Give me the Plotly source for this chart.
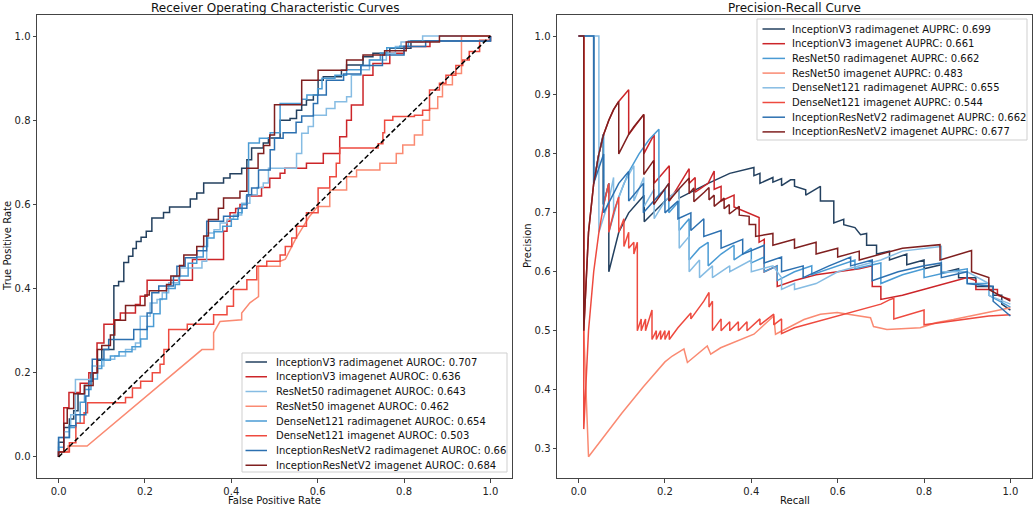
import plotly.graph_objects as go

# ---------------- DATA ----------------
roc_names = [
    "InceptionV3 radimagenet AUROC: 0.707",
    "InceptionV3 imagenet AUROC: 0.636",
    "ResNet50 radimagenet AUROC: 0.643",
    "ResNet50 imagenet AUROC: 0.462",
    "DenseNet121 radimagenet AUROC: 0.654",
    "DenseNet121 imagenet AUROC: 0.503",
    "InceptionResNetV2 radimagenet AUROC: 0.66",
    "InceptionResNetV2 imagenet AUROC: 0.684",
]
pr_names = [
    "InceptionV3 radimagenet AUPRC: 0.699",
    "InceptionV3 imagenet AUPRC: 0.661",
    "ResNet50 radimagenet AUPRC: 0.662",
    "ResNet50 imagenet AUPRC: 0.483",
    "DenseNet121 radimagenet AUPRC: 0.655",
    "DenseNet121 imagenet AUPRC: 0.544",
    "InceptionResNetV2 radimagenet AUPRC: 0.662",
    "InceptionResNetV2 imagenet AUPRC: 0.677",
]
roc_colors = ["#23405f", "#cc2529", "#86bce3", "#fa8a72", "#4a9bd4", "#ee4a3f", "#2c70b0", "#7f1f1f"]
pr_colors = ["#23405f", "#cc2529", "#4a9bd4", "#fa8a72", "#86bce3", "#ee4a3f", "#2c70b0", "#7f1f1f"]

# ROC step curves: (fpr at which the jump happens, tpr after the jump)
roc_incv3_rad = [(0, 0), (0, 0.035), (0.012, 0.07), (0.025, 0.09), (0.035, 0.11), (0.045, 0.15), (0.06, 0.17),
                 (0.075, 0.2), (0.09, 0.23), (0.1, 0.255), (0.128, 0.407), (0.139, 0.417), (0.151, 0.462),
                 (0.162, 0.477), (0.172, 0.495), (0.18, 0.512), (0.191, 0.522), (0.203, 0.536), (0.216, 0.568),
                 (0.243, 0.581), (0.257, 0.594), (0.305, 0.613), (0.32, 0.627), (0.336, 0.651), (0.382, 0.663),
                 (0.397, 0.673), (0.424, 0.686), (0.436, 0.706), (0.447, 0.734), (0.474, 0.746), (0.486, 0.758),
                 (0.513, 0.8), (0.536, 0.804), (0.551, 0.824), (0.563, 0.836), (0.574, 0.848), (0.59, 0.86),
                 (0.601, 0.895), (0.613, 0.903), (0.655, 0.919), (0.667, 0.931), (0.705, 0.951), (0.728, 0.959),
                 (0.767, 0.971), (0.816, 0.989), (1.0, 1.0)]
roc_incv3_img = [(0, 0), (0, 0.012), (0.012, 0.117), (0.024, 0.153), (0.05, 0.175), (0.07, 0.2), (0.089, 0.271),
                 (0.105, 0.315), (0.128, 0.326), (0.143, 0.342), (0.178, 0.362), (0.189, 0.382), (0.205, 0.42),
                 (0.31, 0.469), (0.382, 0.536), (0.39, 0.56), (0.397, 0.58), (0.41, 0.59), (0.42, 0.6),
                 (0.436, 0.62), (0.47, 0.64), (0.489, 0.662), (0.513, 0.674), (0.524, 0.686), (0.574, 0.698),
                 (0.613, 0.721), (0.651, 0.761), (0.667, 0.8), (0.678, 0.836), (0.705, 0.907), (0.728, 0.935),
                 (0.767, 0.959), (0.8, 0.975), (0.86, 0.988), (1.0, 1.0)]
roc_res50_rad = [(0, 0), (0, 0.046), (0.012, 0.06), (0.025, 0.07), (0.028, 0.1), (0.039, 0.184), (0.078, 0.216),
                 (0.105, 0.232), (0.13, 0.24), (0.155, 0.255), (0.178, 0.271), (0.189, 0.334), (0.212, 0.366),
                 (0.228, 0.374), (0.24, 0.39), (0.255, 0.414), (0.278, 0.429), (0.282, 0.449), (0.332, 0.465),
                 (0.343, 0.532), (0.36, 0.54), (0.374, 0.556), (0.39, 0.565), (0.405, 0.575), (0.424, 0.603),
                 (0.443, 0.623), (0.46, 0.64), (0.474, 0.651), (0.486, 0.686), (0.551, 0.721), (0.563, 0.769),
                 (0.578, 0.785), (0.59, 0.812), (0.62, 0.828), (0.64, 0.844), (0.667, 0.856), (0.678, 0.907),
                 (0.7, 0.92), (0.72, 0.943), (0.759, 0.959), (0.78, 0.975), (0.793, 0.986), (0.843, 1.0), (1.0, 1.0)]
# ResNet50 imagenet ROC has slanted pieces: plain vertices
roc_res50_img = [(0, 0), (0, 0.012), (0.022, 0.012), (0.022, 0.026), (0.066, 0.026), (0.305, 0.232),
                 (0.332, 0.255), (0.359, 0.255), (0.359, 0.295), (0.374, 0.322), (0.424, 0.326), (0.424, 0.342),
                 (0.443, 0.366), (0.463, 0.381), (0.463, 0.453), (0.513, 0.453), (0.513, 0.465), (0.525, 0.47),
                 (0.54, 0.5), (0.55, 0.52), (0.565, 0.545), (0.58, 0.57), (0.6, 0.595), (0.628, 0.595),
                 (0.628, 0.634), (0.667, 0.634), (0.667, 0.666), (0.69, 0.666), (0.69, 0.682), (0.744, 0.682),
                 (0.744, 0.698), (0.782, 0.698), (0.782, 0.721), (0.797, 0.721), (0.797, 0.741), (0.824, 0.741),
                 (0.824, 0.765), (0.843, 0.765), (0.843, 0.8), (0.859, 0.8), (0.859, 0.828), (0.878, 0.828),
                 (0.878, 0.856), (0.889, 0.856), (0.889, 0.884), (0.912, 0.884), (0.912, 0.911), (0.933, 0.911),
                 (0.933, 1.0), (1.0, 1.0)]
roc_dense_rad = [(0, 0), (0, 0.023), (0.012, 0.046), (0.025, 0.07), (0.04, 0.08), (0.05, 0.13), (0.06, 0.16),
                 (0.075, 0.185), (0.09, 0.21), (0.1, 0.23), (0.12, 0.24), (0.14, 0.25), (0.17, 0.262),
                 (0.19, 0.28), (0.205, 0.31), (0.22, 0.34), (0.235, 0.375), (0.25, 0.4), (0.27, 0.41),
                 (0.28, 0.43), (0.3, 0.46), (0.32, 0.475), (0.335, 0.5), (0.345, 0.52), (0.36, 0.535),
                 (0.38, 0.548), (0.4, 0.565), (0.415, 0.58), (0.425, 0.6), (0.435, 0.62), (0.44, 0.746),
                 (0.465, 0.757), (0.49, 0.77), (0.513, 0.84), (0.563, 0.85), (0.575, 0.86), (0.6, 0.875),
                 (0.61, 0.9), (0.64, 0.907), (0.667, 0.92), (0.7, 0.93), (0.72, 0.943), (0.745, 0.96),
                 (0.76, 0.972), (0.79, 0.976), (0.81, 0.988), (1.0, 1.0)]
roc_dense_img = [(0, 0), (0, 0.012), (0.025, 0.034), (0.04, 0.08), (0.059, 0.105), (0.067, 0.129), (0.155, 0.141),
                 (0.171, 0.164), (0.19, 0.18), (0.217, 0.2), (0.235, 0.22), (0.244, 0.255), (0.255, 0.303),
                 (0.298, 0.315), (0.359, 0.338), (0.39, 0.358), (0.405, 0.398), (0.436, 0.421), (0.459, 0.453),
                 (0.482, 0.465), (0.513, 0.48), (0.525, 0.5), (0.54, 0.52), (0.551, 0.548), (0.574, 0.58),
                 (0.601, 0.639), (0.628, 0.666), (0.643, 0.698), (0.651, 0.734), (0.74, 0.744), (0.751, 0.77),
                 (0.755, 0.8), (0.774, 0.809), (0.824, 0.812), (0.843, 0.824), (0.859, 0.872), (0.882, 0.888),
                 (0.897, 0.907), (0.92, 0.93), (0.936, 0.943), (0.951, 0.963), (0.975, 0.99), (1.0, 1.0)]
roc_irv2_rad = [(0, 0), (0, 0.046), (0.025, 0.074), (0.04, 0.1), (0.063, 0.145), (0.07, 0.18), (0.078, 0.232),
                (0.105, 0.255), (0.116, 0.279), (0.174, 0.303), (0.205, 0.342), (0.216, 0.39), (0.232, 0.406),
                (0.266, 0.429), (0.274, 0.453), (0.293, 0.473), (0.32, 0.49), (0.343, 0.56), (0.382, 0.572),
                (0.416, 0.591), (0.436, 0.623), (0.447, 0.639), (0.463, 0.682), (0.49, 0.73), (0.5, 0.757),
                (0.52, 0.77), (0.55, 0.795), (0.563, 0.81), (0.59, 0.84), (0.6, 0.86), (0.62, 0.895),
                (0.66, 0.91), (0.7, 0.93), (0.75, 0.955), (0.8, 0.975), (0.85, 0.988), (1.0, 1.0)]
roc_irv2_img = [(0, 0), (0, 0.012), (0.012, 0.08), (0.02, 0.115), (0.035, 0.15), (0.06, 0.17), (0.08, 0.2),
                (0.09, 0.255), (0.1, 0.265), (0.12, 0.29), (0.13, 0.325), (0.155, 0.36), (0.2, 0.385),
                (0.21, 0.395), (0.25, 0.41), (0.26, 0.43), (0.28, 0.455), (0.29, 0.48), (0.32, 0.5),
                (0.336, 0.525), (0.347, 0.564), (0.37, 0.591), (0.382, 0.615), (0.42, 0.631), (0.436, 0.686),
                (0.462, 0.721), (0.475, 0.74), (0.489, 0.765), (0.5, 0.837), (0.563, 0.895), (0.601, 0.919),
                (0.667, 0.943), (0.705, 0.955), (0.755, 0.965), (0.805, 0.986), (0.882, 1.0), (1.0, 1.0)]
roc_chance = [(0, 0), (1, 1)]

# Precision-recall curves: (recall, precision) vertices
pr_incv3_rad = [(0, 1), (0.035, 1), (0.035, 0.75), (0.047, 0.8), (0.057, 0.833), (0.057, 0.714), (0.07, 0.75),
                (0.07, 0.6), (0.093, 0.667), (0.116, 0.7), (0.14, 0.72), (0.152, 0.73), (0.152, 0.685),
                (0.2, 0.72), (0.233, 0.74), (0.233, 0.725), (0.3, 0.75), (0.35, 0.767), (0.406, 0.777),
                (0.406, 0.763), (0.42, 0.767), (0.42, 0.75), (0.45, 0.76), (0.45, 0.752), (0.47, 0.758),
                (0.47, 0.746), (0.491, 0.756), (0.5, 0.756), (0.5, 0.745), (0.526, 0.739), (0.526, 0.73),
                (0.56, 0.745), (0.56, 0.72), (0.591, 0.72), (0.591, 0.683), (0.614, 0.689), (0.614, 0.68),
                (0.64, 0.675), (0.653, 0.663), (0.667, 0.665), (0.667, 0.645), (0.69, 0.645), (0.69, 0.63),
                (0.72, 0.635), (0.72, 0.62), (0.76, 0.63), (0.76, 0.612), (0.8, 0.62), (0.8, 0.605),
                (0.84, 0.612), (0.84, 0.598), (0.88, 0.605), (0.88, 0.59), (0.92, 0.59), (0.92, 0.575),
                (0.96, 0.575), (0.96, 0.56), (0.98, 0.56), (0.98, 0.545), (1.0, 0.535)]
pr_incv3_img = [(0, 1), (0.012, 1), (0.012, 0.5), (0.023, 0.667), (0.035, 0.75), (0.047, 0.8), (0.058, 0.833),
                (0.07, 0.857), (0.081, 0.875), (0.093, 0.889), (0.116, 0.909), (0.116, 0.833), (0.151, 0.867),
                (0.151, 0.8), (0.175, 0.833), (0.175, 0.75), (0.21, 0.78), (0.21, 0.72), (0.256, 0.775),
                (0.256, 0.75), (0.27, 0.76), (0.27, 0.735), (0.3, 0.75), (0.314, 0.771), (0.314, 0.74),
                (0.33, 0.745), (0.33, 0.72), (0.36, 0.73), (0.36, 0.71), (0.418, 0.692), (0.418, 0.65),
                (0.43, 0.655), (0.43, 0.6), (0.46, 0.61), (0.46, 0.575), (0.5, 0.585), (0.55, 0.595),
                (0.6, 0.6), (0.65, 0.605), (0.68, 0.61), (0.68, 0.575), (0.7, 0.575), (0.7, 0.553),
                (0.75, 0.56), (0.8, 0.57), (0.85, 0.58), (0.9, 0.59), (0.92, 0.585), (0.92, 0.57),
                (0.97, 0.57), (0.97, 0.56), (1.0, 0.553)]
pr_res50_rad = [(0, 1), (0.035, 1), (0.035, 0.75), (0.047, 0.8), (0.058, 0.833), (0.058, 0.714), (0.07, 0.75),
                (0.07, 0.667), (0.093, 0.727), (0.116, 0.769), (0.14, 0.8), (0.163, 0.824), (0.186, 0.842),
                (0.186, 0.727), (0.209, 0.75), (0.209, 0.7), (0.233, 0.72), (0.233, 0.67), (0.256, 0.69),
                (0.256, 0.62), (0.28, 0.64), (0.3, 0.65), (0.3, 0.61), (0.33, 0.63), (0.36, 0.645),
                (0.36, 0.62), (0.4, 0.64), (0.4, 0.615), (0.43, 0.625), (0.43, 0.6), (0.46, 0.61),
                (0.46, 0.585), (0.5, 0.6), (0.54, 0.61), (0.54, 0.595), (0.6, 0.61), (0.64, 0.62),
                (0.64, 0.605), (0.7, 0.615), (0.7, 0.58), (0.75, 0.595), (0.8, 0.605), (0.8, 0.59),
                (0.86, 0.6), (0.9, 0.605), (0.9, 0.58), (0.95, 0.58), (0.95, 0.56), (1.0, 0.54)]
pr_res50_img = [(0, 1), (0.012, 1), (0.012, 0.5), (0.023, 0.286), (0.1, 0.36), (0.15, 0.405), (0.2, 0.447),
                (0.217, 0.457), (0.244, 0.469), (0.252, 0.446), (0.298, 0.474), (0.306, 0.46), (0.329, 0.471),
                (0.406, 0.494), (0.452, 0.525), (0.456, 0.494), (0.522, 0.519), (0.56, 0.528), (0.599, 0.531),
                (0.676, 0.522), (0.683, 0.507), (0.714, 0.502), (0.791, 0.505), (0.83, 0.514), (0.868, 0.519),
                (0.907, 0.525), (1.0, 0.539)]
pr_dense_rad = [(0, 1), (0.047, 1), (0.047, 0.667), (0.07, 0.72), (0.081, 0.76), (0.081, 0.7), (0.105, 0.75),
                (0.128, 0.78), (0.128, 0.72), (0.151, 0.76), (0.151, 0.71), (0.175, 0.74), (0.175, 0.69),
                (0.2, 0.72), (0.233, 0.74), (0.233, 0.64), (0.256, 0.66), (0.256, 0.6), (0.28, 0.62),
                (0.28, 0.59), (0.31, 0.61), (0.31, 0.59), (0.35, 0.61), (0.35, 0.6), (0.4, 0.62), (0.4, 0.6),
                (0.45, 0.61), (0.47, 0.59), (0.47, 0.57), (0.5, 0.58), (0.5, 0.57), (0.55, 0.58), (0.6, 0.6),
                (0.65, 0.61), (0.7, 0.62), (0.75, 0.635), (0.84, 0.643), (0.84, 0.6), (0.9, 0.6),
                (0.95, 0.58), (0.95, 0.56), (1.0, 0.545)]
pr_dense_img = [(0, 1), (0.012, 1), (0.012, 0.333), (0.023, 0.5), (0.035, 0.6), (0.047, 0.667), (0.058, 0.714),
                (0.07, 0.75), (0.07, 0.667), (0.081, 0.7), (0.093, 0.727), (0.093, 0.667), (0.105, 0.69),
                (0.105, 0.643), (0.116, 0.667), (0.116, 0.64), (0.128, 0.65), (0.128, 0.63), (0.136, 0.65),
                (0.136, 0.5), (0.145, 0.52), (0.145, 0.5), (0.155, 0.52), (0.155, 0.5), (0.17, 0.535),
                (0.17, 0.485), (0.18, 0.5), (0.18, 0.485), (0.19, 0.5), (0.19, 0.485), (0.2, 0.5),
                (0.2, 0.485), (0.21, 0.5), (0.21, 0.485), (0.23, 0.505), (0.26, 0.53), (0.26, 0.52),
                (0.29, 0.55), (0.302, 0.565), (0.302, 0.54), (0.31, 0.55), (0.31, 0.5), (0.33, 0.52),
                (0.33, 0.5), (0.35, 0.515), (0.35, 0.5), (0.37, 0.515), (0.37, 0.5), (0.39, 0.515),
                (0.39, 0.5), (0.42, 0.52), (0.42, 0.51), (0.452, 0.528), (0.452, 0.51), (0.47, 0.52),
                (0.47, 0.495), (0.5, 0.505), (0.55, 0.515), (0.6, 0.525), (0.65, 0.535), (0.7, 0.545),
                (0.722, 0.553), (0.73, 0.555), (0.73, 0.52), (0.78, 0.53), (0.8, 0.535), (0.8, 0.51),
                (0.85, 0.515), (0.9, 0.52), (0.95, 0.525), (1.0, 0.527)]
pr_irv2_rad = [(0, 1), (0.035, 1), (0.035, 0.75), (0.058, 0.8), (0.058, 0.7), (0.093, 0.75), (0.116, 0.77),
               (0.116, 0.72), (0.15, 0.75), (0.15, 0.7), (0.186, 0.73), (0.2, 0.74), (0.2, 0.7), (0.23, 0.72),
               (0.23, 0.69), (0.26, 0.7), (0.26, 0.67), (0.29, 0.69), (0.29, 0.66), (0.33, 0.67),
               (0.33, 0.64), (0.38, 0.655), (0.38, 0.63), (0.43, 0.645), (0.43, 0.615), (0.47, 0.625),
               (0.47, 0.6), (0.52, 0.61), (0.52, 0.59), (0.58, 0.61), (0.63, 0.625), (0.63, 0.61),
               (0.68, 0.62), (0.68, 0.585), (0.74, 0.6), (0.8, 0.61), (0.84, 0.615), (0.84, 0.59),
               (0.9, 0.6), (0.9, 0.58), (0.96, 0.575), (0.96, 0.55), (1.0, 0.525)]
pr_irv2_img = [(0, 1), (0.012, 1), (0.012, 0.5), (0.023, 0.667), (0.035, 0.75), (0.047, 0.8), (0.058, 0.833),
               (0.07, 0.857), (0.081, 0.875), (0.093, 0.889), (0.093, 0.8), (0.105, 0.818), (0.116, 0.833),
               (0.128, 0.846), (0.14, 0.857), (0.151, 0.867), (0.151, 0.765), (0.163, 0.778), (0.174, 0.789),
               (0.174, 0.714), (0.198, 0.739), (0.209, 0.75), (0.209, 0.72), (0.233, 0.741), (0.256, 0.759),
               (0.256, 0.733), (0.267, 0.742), (0.267, 0.719), (0.291, 0.735), (0.302, 0.743), (0.302, 0.722),
               (0.314, 0.73), (0.314, 0.711), (0.337, 0.725), (0.337, 0.707), (0.349, 0.714), (0.349, 0.698),
               (0.372, 0.711), (0.372, 0.696), (0.395, 0.694), (0.395, 0.68), (0.41, 0.68), (0.41, 0.66),
               (0.45, 0.665), (0.45, 0.645), (0.5, 0.655), (0.5, 0.64), (0.55, 0.65), (0.55, 0.63),
               (0.6, 0.64), (0.6, 0.625), (0.65, 0.635), (0.65, 0.62), (0.7, 0.63), (0.75, 0.64),
               (0.837, 0.646), (0.837, 0.62), (0.91, 0.636), (0.91, 0.6), (0.95, 0.59), (0.95, 0.57),
               (1.0, 0.55)]

roc_series = [roc_incv3_rad, roc_incv3_img, roc_res50_rad, roc_res50_img,
              roc_dense_rad, roc_dense_img, roc_irv2_rad, roc_irv2_img]
roc_shapes = ["hv", "hv", "hv", "linear", "hv", "hv", "hv", "hv"]
pr_series = [pr_incv3_rad, pr_incv3_img, pr_res50_rad, pr_res50_img,
             pr_dense_rad, pr_dense_img, pr_irv2_rad, pr_irv2_img]

# ---------------- FIGURE ----------------
W, H = 1035, 506
FONT = "DejaVu Sans"
fig = go.Figure()

for pts, name, col, shp in zip(roc_series, roc_names, roc_colors, roc_shapes):
    fig.add_trace(go.Scatter(x=[p[0] for p in pts], y=[p[1] for p in pts], mode="lines", name=name,
                             line=dict(color=col, width=1.5, shape=shp), showlegend=False,
                             hoverinfo="skip", xaxis="x", yaxis="y"))
fig.add_trace(go.Scatter(x=[p[0] for p in roc_chance], y=[p[1] for p in roc_chance], mode="lines",
                         line=dict(color="black", width=1.5, dash="5px,2.5px"), showlegend=False,
                         hoverinfo="skip", xaxis="x", yaxis="y"))
for pts, name, col in zip(pr_series, pr_names, pr_colors):
    fig.add_trace(go.Scatter(x=[p[0] for p in pts], y=[p[1] for p in pts], mode="lines", name=name,
                             line=dict(color=col, width=1.5), showlegend=False,
                             hoverinfo="skip", xaxis="x2", yaxis="y2"))


def px_x(v):
    return v / W


def px_y(v):
    return 1 - v / H


axis_common = dict(showline=True, mirror=True, linecolor="#444", linewidth=1, ticks="outside",
                   ticklen=3.5, tickcolor="#444", showgrid=False, zeroline=False,
                   tickfont=dict(family=FONT, size=10, color="#222"))
fig.update_layout(
    width=W, height=H, margin=dict(l=0, r=0, t=0, b=0),
    paper_bgcolor="white", plot_bgcolor="white",
    xaxis=dict(domain=[px_x(37), px_x(512)], range=[-0.05, 1.05], tickvals=[0, 0.2, 0.4, 0.6, 0.8, 1.0],
               ticktext=["0.0", "0.2", "0.4", "0.6", "0.8", "1.0"], anchor="y", **axis_common),
    yaxis=dict(domain=[px_y(478), px_y(15)], range=[-0.05, 1.05], tickvals=[0, 0.2, 0.4, 0.6, 0.8, 1.0],
               ticktext=["0.0", "0.2", "0.4", "0.6", "0.8", "1.0"], anchor="x", **axis_common),
    xaxis2=dict(domain=[px_x(557), px_x(1032)], range=[-0.05, 1.05], tickvals=[0, 0.2, 0.4, 0.6, 0.8, 1.0],
                ticktext=["0.0", "0.2", "0.4", "0.6", "0.8", "1.0"], anchor="y2", **axis_common),
    yaxis2=dict(domain=[px_y(478), px_y(15)], range=[0.25, 1.0357],
                tickvals=[0.3, 0.4, 0.5, 0.6, 0.7, 0.8, 0.9, 1.0],
                ticktext=["0.3", "0.4", "0.5", "0.6", "0.7", "0.8", "0.9", "1.0"], anchor="x2", **axis_common),
    showlegend=False,
    hovermode=False,
)

annotations = []
shapes = []
# titles and axis labels
for txt, x, y, sz, ang in [
    ("Receiver Operating Characteristic Curves", 274.5, 8, 12, 0),
    ("Precision-Recall Curve", 794.5, 8, 12, 0),
    ("False Positive Rate", 274.5, 500, 10, 0),
    ("Recall", 794.5, 500, 10, 0),
    ("True Positive Rate", 7, 246, 10, -90),
    ("Precision", 527, 246, 10, -90),
]:
    annotations.append(dict(text=txt, x=px_x(x), y=px_y(y), xref="paper", yref="paper", showarrow=False,
                            xanchor="center", yanchor="middle", textangle=ang,
                            font=dict(family=FONT, size=sz, color="#111")))


def add_legend(names, colors, box, line_x0, line_x1, text_x, row0, dy):
    x0, y0, x1, y1 = box
    shapes.append(dict(type="rect", xref="paper", yref="paper", x0=px_x(x0), x1=px_x(x1),
                       y0=px_y(y1), y1=px_y(y0), line=dict(color="#cfcfcf", width=1),
                       fillcolor="rgba(255,255,255,0.85)", layer="above"))
    for i, (n, c) in enumerate(zip(names, colors)):
        yy = row0 + i * dy
        shapes.append(dict(type="line", xref="paper", yref="paper", x0=px_x(line_x0), x1=px_x(line_x1),
                           y0=px_y(yy), y1=px_y(yy), line=dict(color=c, width=1.5), layer="above"))
        annotations.append(dict(text=n, x=px_x(text_x), y=px_y(yy), xref="paper", yref="paper",
                                showarrow=False, xanchor="left", yanchor="middle",
                                font=dict(family=FONT, size=10, color="#111")))


add_legend(roc_names, roc_colors, (242, 353, 507, 472), 245.5, 267, 274, 362, 14.75)
add_legend(pr_names, pr_colors, (757, 19, 1027, 140), 762.5, 785, 790, 29, 14.7)

fig.update_layout(annotations=annotations, shapes=shapes)
fig.write_html("out.html", config={"displayModeBar": False, "staticPlot": True},
               post_script="document.body.style.margin='0';document.body.style.overflow='hidden';")
